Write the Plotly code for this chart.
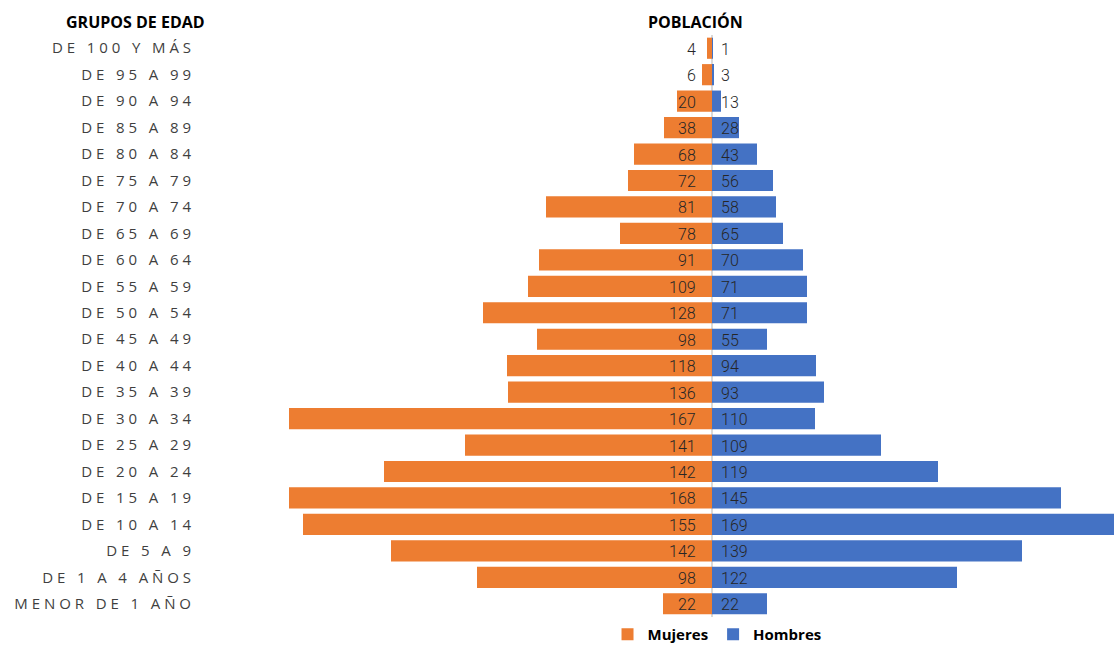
import plotly.graph_objects as go

categories = ["DE 100 Y MÁS", "DE 95 A 99", "DE 90 A 94", "DE 85 A 89", "DE 80 A 84",
              "DE 75 A 79", "DE 70 A 74", "DE 65 A 69", "DE 60 A 64", "DE 55 A 59",
              "DE 50 A 54", "DE 45 A 49", "DE 40 A 44", "DE 35 A 39", "DE 30 A 34",
              "DE 25 A 29", "DE 20 A 24", "DE 15 A 19", "DE 10 A 14", "DE 5 A 9",
              "DE 1 A 4 AÑOS", "MENOR DE 1 AÑO"]

# values printed on the bars
mujeres_labels = [4, 6, 20, 38, 68, 72, 81, 78, 91, 109, 128, 98, 118, 136, 167, 141, 142, 168, 155, 142, 98, 22]
hombres_labels = [1, 3, 13, 28, 43, 56, 58, 65, 70, 71, 71, 55, 94, 93, 110, 109, 119, 145, 169, 139, 122, 22]

# bar lengths as drawn
mujeres_bar = [2, 4, 14, 19.2, 31.2, 33.6, 66.4, 36.8, 69.2, 73.6, 91.6, 70, 82, 81.6, 169.2, 98.8, 131.2, 169.2, 163.6, 128.4, 94, 19.6]
hombres_bar = [0.2, 0.6, 3.6, 10.8, 18, 24.4, 25.6, 28.4, 36.4, 38, 38, 22, 41.6, 44.8, 41.2, 67.6, 90.4, 139.6, 165, 124, 98, 22]

ORANGE = "#ED7D31"
BLUE = "#4472C4"
NUM_FONT = "Roboto, sans-serif"
LBL_FONT = "Open Sans, sans-serif"


def spaced(s):
    return "\u00a0\u00a0\u00a0".join("\u00a0".join(w) for w in s.split(" "))


fig = go.Figure()
fig.add_trace(go.Bar(y=categories, x=[-v for v in mujeres_bar], orientation="h",
                     name="Mujeres", marker=dict(color=ORANGE, line=dict(width=0)),
                     hoverinfo="skip"))
fig.add_trace(go.Bar(y=categories, x=hombres_bar, orientation="h",
                     name="Hombres", marker=dict(color=BLUE, line=dict(width=0)),
                     hoverinfo="skip"))

annotations = []
for cat, m, h in zip(categories, mujeres_labels, hombres_labels):
    annotations.append(dict(x=0, y=cat, xref="x", yref="y", text=str(m), showarrow=False,
                            xanchor="right", yanchor="middle", xshift=-14, yshift=-1,
                            font=dict(family=NUM_FONT, size=16, color="#262626", weight=300)))
    annotations.append(dict(x=0, y=cat, xref="x", yref="y", text=str(h), showarrow=False,
                            xanchor="left", yanchor="middle", xshift=7, yshift=-1,
                            font=dict(family=NUM_FONT, size=16, color="#262626", weight=300)))

annotations.append(dict(x=-0.1727, y=1.0218, xref="paper", yref="paper", text="<b>GRUPOS DE EDAD</b>",
                        showarrow=False, xanchor="center", yanchor="middle",
                        font=dict(family=LBL_FONT, size=16, color="#000000")))
annotations.append(dict(x=0.4988, y=1.0218, xref="paper", yref="paper", text="<b>POBLACIÓN</b>",
                        showarrow=False, xanchor="center", yanchor="middle",
                        font=dict(family=LBL_FONT, size=16, color="#000000")))

fig.update_layout(
    width=1114, height=647,
    margin=dict(l=280, r=0, t=35, b=30, autoexpand=False),
    paper_bgcolor="white", plot_bgcolor="white",
    barmode="relative", bargap=0.2,
    showlegend=True,
    legend=dict(orientation="h", x=0.524, xanchor="center", y=-0.03, yanchor="middle",
                font=dict(family=LBL_FONT, size=15, color="#000000", weight="bold"),
                itemwidth=30, traceorder="normal", bgcolor="rgba(0,0,0,0)"),
    annotations=annotations,
    xaxis=dict(range=[-172.8, 160.8], showticklabels=False, showgrid=False,
               zeroline=True, zerolinecolor="#d9d9d9", zerolinewidth=1.5,
               layer="above traces", fixedrange=True),
    yaxis=dict(categoryorder="array", categoryarray=categories, autorange="reversed",
               tickmode="array", tickvals=categories, ticktext=[spaced(c) for c in categories],
               showgrid=False, zeroline=False, showline=False, ticks="",
               ticklabelstandoff=88,
               tickfont=dict(family=LBL_FONT, size=15, color="#3f3f3f"), fixedrange=True),
)

fig.write_html("out.html", config={"displayModeBar": False},
               post_script="document.body.style.margin='0';document.body.style.overflow='hidden';")
